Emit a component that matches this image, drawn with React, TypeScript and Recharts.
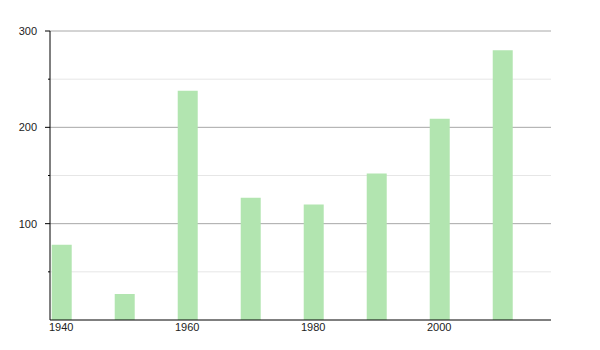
import React from "react";
import { BarChart, Bar, XAxis, YAxis, CartesianGrid } from "recharts";

const years = [1940, 1950, 1960, 1970, 1980, 1990, 2000, 2010];
const values = [78, 27, 238, 127, 120, 152, 209, 280];
const xTicks = [1940, 1960, 1980, 2000];
const yTicks = [0, 50, 100, 150, 200, 250, 300];
const majorGrid = [100, 200, 300];
const minorGrid = [50, 150, 250];

const data = years.map((y, i) => ({ year: y, value: values[i] }));

const FONT = '"Liberation Sans", Arial, Helvetica, sans-serif';

const YTick = (props: any) => {
  const { x, y, payload } = props;
  const v = payload.value as number;
  if (v === 0) return null;
  const major = v % 100 === 0;
  return (
    <g>
      <line x1={x - (major ? 5 : 2)} x2={x} y1={y} y2={y} stroke="#000" strokeWidth={1} />
      {major && (
        <text x={x - 13} y={y} dy={4} textAnchor="end" fontSize={11} fill="#222" fontFamily={FONT}>
          {v}
        </text>
      )}
    </g>
  );
};

const XTick = (props: any) => {
  const { x, y, payload } = props;
  return (
    <text x={x} y={y} dy={11} textAnchor="middle" fontSize={11} fill="#222" fontFamily={FONT}>
      {payload.value}
    </text>
  );
};

export default function App() {
  return (
    <div style={{ position: "absolute", left: 0, top: 0, width: 600, height: 350, background: "#fff" }}>
      <BarChart width={600} height={350} data={data} margin={{ top: 31, right: 49, bottom: 10, left: 0 }}>
        <CartesianGrid vertical={false} horizontalValues={minorGrid} stroke="#e6e6e6" />
        <CartesianGrid vertical={false} horizontalValues={majorGrid} stroke="#a8a8a8" />
        <XAxis
          dataKey="year"
          type="number"
          domain={[1938.22, 2017.74]}
          allowDataOverflow
          ticks={xTicks}
          tickSize={0}
          tickMargin={0}
          tickLine={false}
          axisLine={{ stroke: "#000" }}
          tick={<XTick />}
          height={20}
          interval={0}
        />
        <YAxis
          type="number"
          domain={[0, 300]}
          ticks={yTicks}
          width={50}
          tickSize={0}
          tickMargin={0}
          tickLine={false}
          axisLine={{ stroke: "#000" }}
          tick={<YTick />}
          interval={0}
        />
        <Bar dataKey="value" fill="#b2e5b0" barSize={20} isAnimationActive={false} />
      </BarChart>
    </div>
  );
}
